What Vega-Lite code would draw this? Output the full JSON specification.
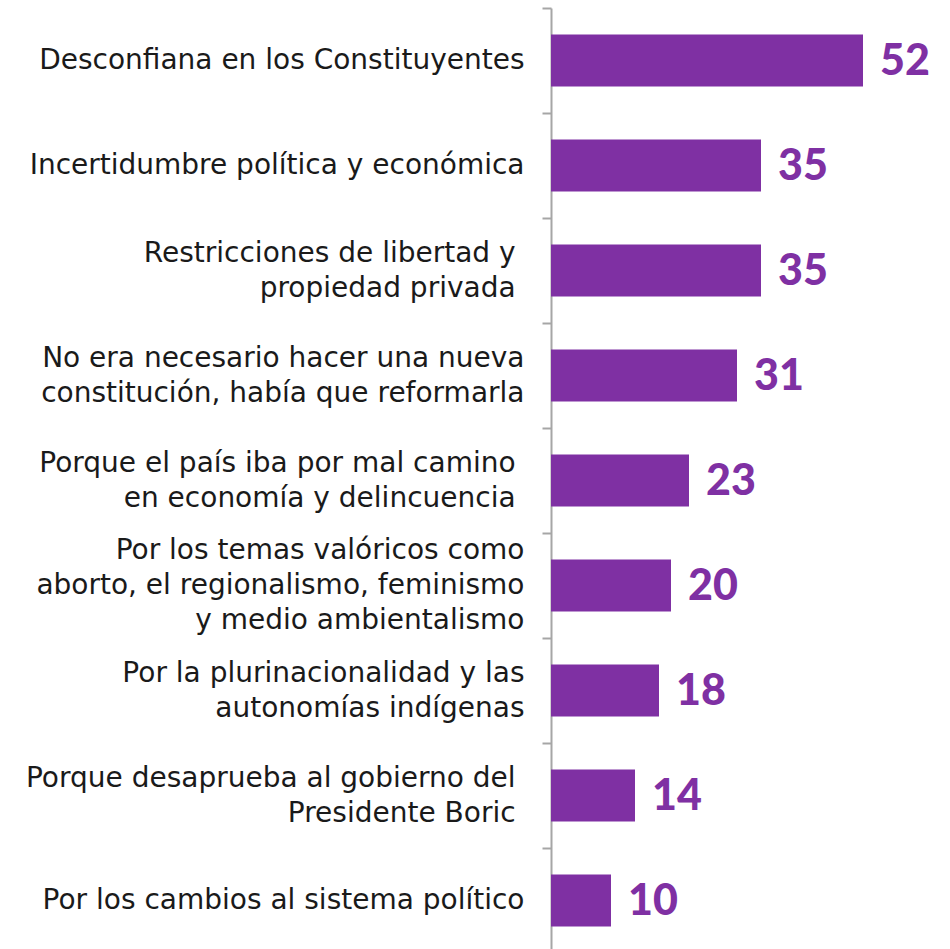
{
  "$schema": "https://vega.github.io/schema/vega-lite/v6.json",
  "autosize": {"type": "none"},
  "padding": {"left": 551, "top": 8, "right": 0, "bottom": 0},
  "width": 399,
  "height": 945,
  "background": "white",
  "data": {"values": [
    {"razon": "Desconfiana en los Constituyentes", "valor": 52},
    {"razon": "Incertidumbre política y económica", "valor": 35},
    {"razon": "Restricciones de libertad y \u200b|propiedad privada \u200b", "valor": 35},
    {"razon": "No era necesario hacer una nueva|constitución, había que reformarla", "valor": 31},
    {"razon": "Porque el país iba por mal camino \u200b|en economía y delincuencia \u200b", "valor": 23},
    {"razon": "Por los temas valóricos como|aborto, el regionalismo, feminismo|y medio ambientalismo", "valor": 20},
    {"razon": "Por la plurinacionalidad y las|autonomías indígenas", "valor": 18},
    {"razon": "Porque desaprueba al gobierno del \u200b|Presidente Boric \u200b", "valor": 14},
    {"razon": "Por los cambios al sistema político", "valor": 10}
  ]},
  "encoding": {
    "y": {
      "field": "razon", "type": "nominal", "sort": null,
      "scale": {"paddingInner": 0, "paddingOuter": 0},
      "axis": {
        "title": null,
        "labelExpr": "split(datum.label, '|')",
        "labelOffset": {"expr": "-(length(split(datum.value, '|')) - 1) * 17.5"},
        "labelFont": "DejaVu Sans",
        "labelFontSize": 28,
        "labelLineHeight": 35,
        "labelColor": "#1a1a1a",
        "labelPadding": 18,
        "labelLimit": 600,
        "tickBand": "extent",
        "tickSize": 9,
        "tickColor": "#a6a6a6",
        "tickWidth": 2,
        "domainColor": "#a6a6a6",
        "domainWidth": 2
      }
    },
    "x": {
      "field": "valor", "type": "quantitative",
      "scale": {"domain": [0, 66.5], "nice": false, "zero": true},
      "axis": null
    }
  },
  "layer": [
    {"mark": {"type": "bar", "color": "#7F30A3", "size": 52}},
    {
      "mark": {"type": "text", "align": "left", "baseline": "middle", "dx": 17, "dy": 1, "font": "Lato", "fontWeight": 900, "fontSize": 43, "color": "#7F30A3"},
      "encoding": {"text": {"field": "valor", "type": "quantitative"}}
    }
  ],
  "config": {"view": {"stroke": null}}
}
